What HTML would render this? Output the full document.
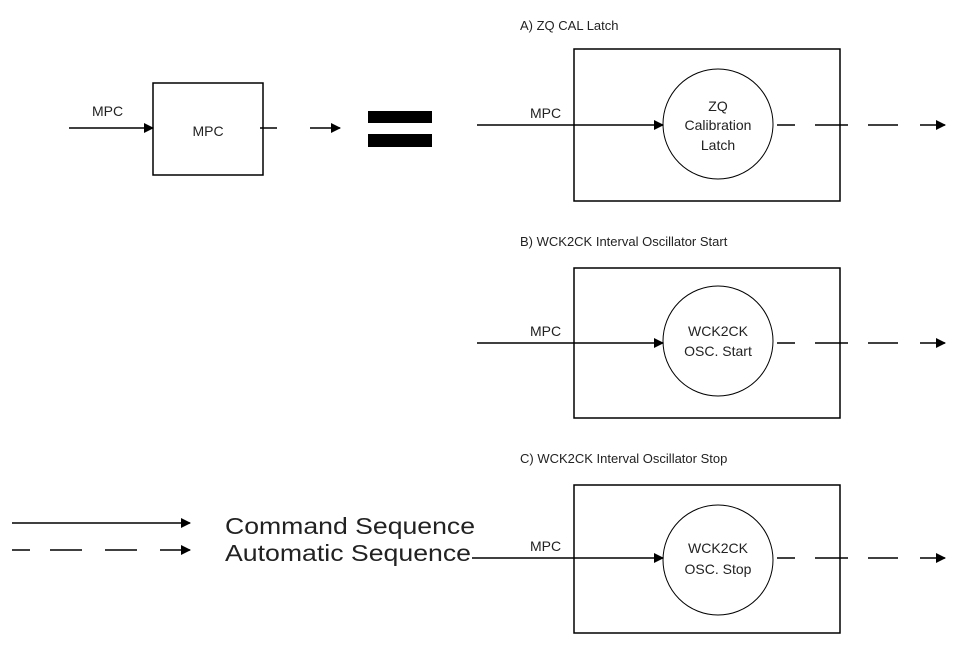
<!DOCTYPE html>
<html><head><meta charset="utf-8"><style>body{margin:0;background:#fff}</style></head>
<body>
<svg width="956" height="642" viewBox="0 0 956 642" xmlns="http://www.w3.org/2000/svg" font-family="Liberation Sans, Arial, sans-serif" fill="#222">
<defs>
<marker id="a" markerWidth="10" markerHeight="10" refX="9" refY="5" orient="auto" markerUnits="userSpaceOnUse"><path d="M0,0 L10,5 L0,10 Z" fill="#000"/></marker>
</defs>
<g stroke="#000" stroke-width="1.5" fill="none">
<!-- top-left -->
<rect x="153" y="83" width="110" height="92"/>
<line x1="69" y1="128" x2="153" y2="128" marker-end="url(#a)"/>
<line x1="260" y1="128" x2="277" y2="128"/>
<line x1="310" y1="128" x2="340" y2="128" marker-end="url(#a)"/>
<!-- A -->
<rect x="574" y="49" width="266" height="152"/>
<circle cx="718" cy="124" r="55" stroke-width="1"/>
<line x1="477" y1="125" x2="663" y2="125" marker-end="url(#a)"/>
<path d="M777,125H795M815,125H848M868,125H898"/>
<line x1="920" y1="125" x2="945" y2="125" marker-end="url(#a)"/>
<!-- B -->
<rect x="574" y="268" width="266" height="150"/>
<circle cx="718" cy="341" r="55" stroke-width="1"/>
<line x1="477" y1="343" x2="663" y2="343" marker-end="url(#a)"/>
<path d="M777,343H795M815,343H848M868,343H898"/>
<line x1="920" y1="343" x2="945" y2="343" marker-end="url(#a)"/>
<!-- C -->
<rect x="574" y="485" width="266" height="148"/>
<circle cx="718" cy="560" r="55" stroke-width="1"/>
<line x1="472" y1="558" x2="663" y2="558" marker-end="url(#a)"/>
<path d="M777,558H795M815,558H848M868,558H898"/>
<line x1="920" y1="558" x2="945" y2="558" marker-end="url(#a)"/>
<!-- legend -->
<line x1="12" y1="523" x2="190" y2="523" marker-end="url(#a)"/>
<path d="M12,550H30M50,550H82M105,550H137"/>
<line x1="160" y1="550" x2="190" y2="550" marker-end="url(#a)"/>
</g>
<rect x="368" y="111" width="64" height="12" fill="#000"/>
<rect x="368" y="134" width="64" height="13" fill="#000"/>
<g font-size="14">
<text x="92" y="116">MPC</text>
<text x="208" y="136" text-anchor="middle">MPC</text>
<text x="520" y="30" font-size="13">A) ZQ CAL Latch</text>
<text x="530" y="118">MPC</text>
<text x="718" y="111" text-anchor="middle">ZQ</text>
<text x="718" y="130" text-anchor="middle">Calibration</text>
<text x="718" y="150" text-anchor="middle">Latch</text>
<text x="520" y="246" font-size="13">B) WCK2CK Interval Oscillator Start</text>
<text x="530" y="336">MPC</text>
<text x="718" y="336" text-anchor="middle">WCK2CK</text>
<text x="718" y="356" text-anchor="middle">OSC. Start</text>
<text x="520" y="463" font-size="13">C) WCK2CK Interval Oscillator Stop</text>
<text x="530" y="551">MPC</text>
<text x="718" y="553" text-anchor="middle">WCK2CK</text>
<text x="718" y="574" text-anchor="middle">OSC. Stop</text>
</g>
<text x="225" y="534" font-size="23" textLength="250" lengthAdjust="spacingAndGlyphs">Command Sequence</text>
<text x="225" y="561" font-size="23" textLength="246" lengthAdjust="spacingAndGlyphs">Automatic Sequence</text>
</svg>
</body></html>
